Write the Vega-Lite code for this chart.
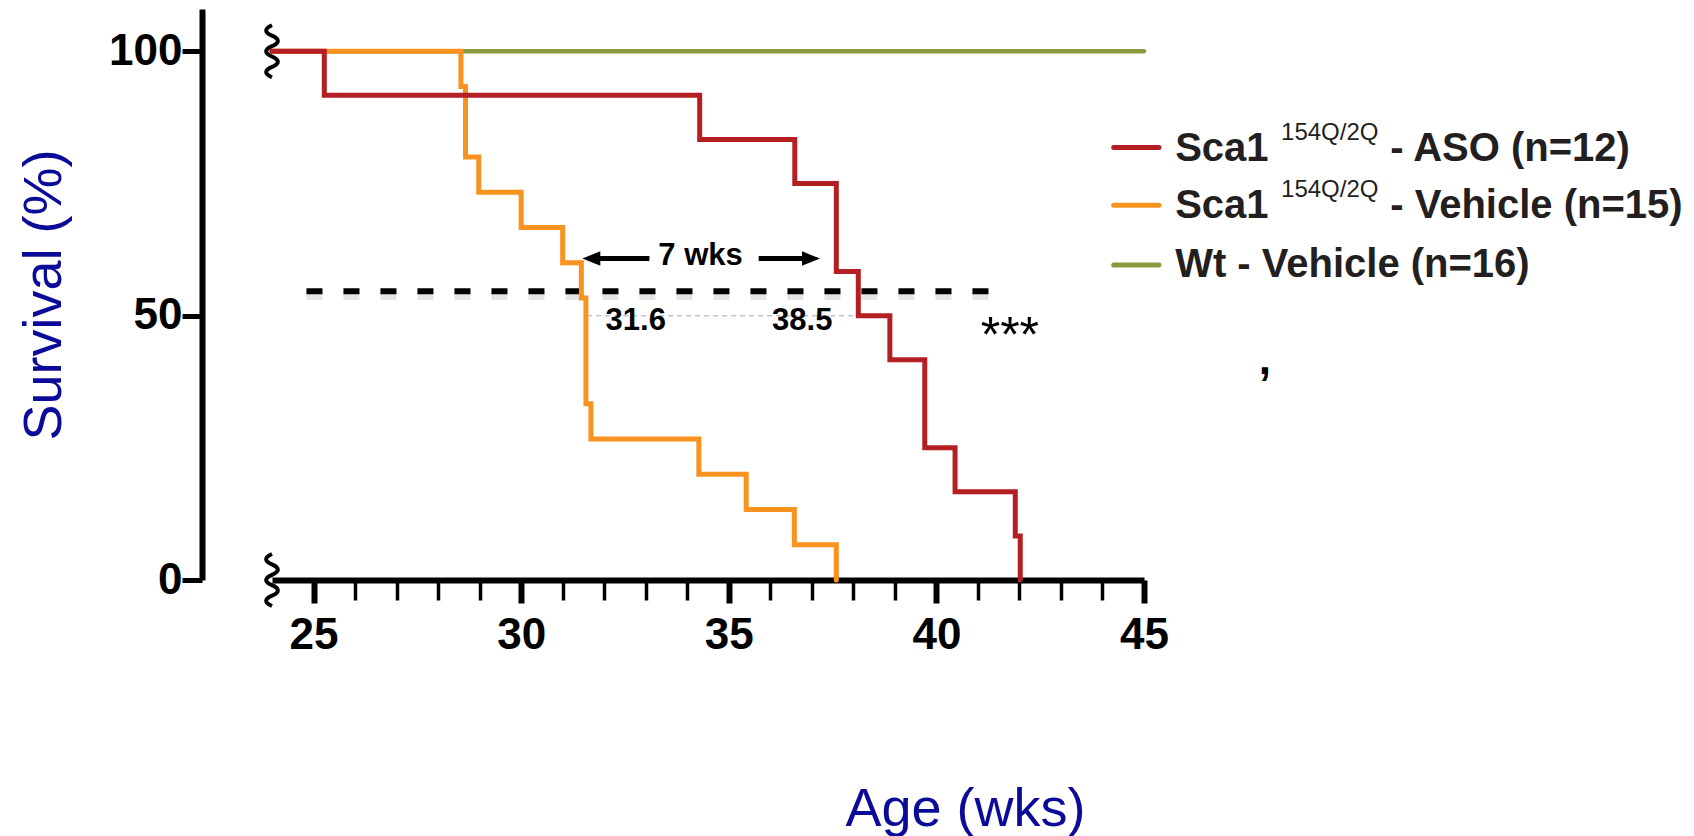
{
  "$schema": "https://vega.github.io/schema/vega-lite/v6.json",
  "width": 872,
  "height": 571,
  "autosize": {"type": "none"},
  "padding": {"left": 272, "top": 9, "right": 550, "bottom": 256},
  "background": "white",
  "config": {"view": {"stroke": null}, "font": "Liberation Sans"},
  "datasets": {
    "surv": [
      {"g": "wt", "x": 24, "y": 100}, {"g": "wt", "x": 45, "y": 100},
      {"g": "veh", "x": 24, "y": 100}, {"g": "veh", "x": 28.55, "y": 93.33}, {"g": "veh", "x": 28.66, "y": 80},
      {"g": "veh", "x": 28.98, "y": 73.33}, {"g": "veh", "x": 30.0, "y": 66.67}, {"g": "veh", "x": 31.0, "y": 60},
      {"g": "veh", "x": 31.45, "y": 53.33}, {"g": "veh", "x": 31.56, "y": 33.33}, {"g": "veh", "x": 31.68, "y": 26.67},
      {"g": "veh", "x": 34.28, "y": 20}, {"g": "veh", "x": 35.42, "y": 13.33}, {"g": "veh", "x": 36.58, "y": 6.67},
      {"g": "veh", "x": 37.59, "y": 0},
      {"g": "aso", "x": 24, "y": 100}, {"g": "aso", "x": 25.26, "y": 91.67}, {"g": "aso", "x": 34.3, "y": 83.33},
      {"g": "aso", "x": 36.59, "y": 75}, {"g": "aso", "x": 37.59, "y": 58.33}, {"g": "aso", "x": 38.12, "y": 50},
      {"g": "aso", "x": 38.88, "y": 41.67}, {"g": "aso", "x": 39.72, "y": 25}, {"g": "aso", "x": 40.45, "y": 16.67},
      {"g": "aso", "x": 41.9, "y": 8.33}, {"g": "aso", "x": 42.02, "y": 0}
    ],
    "breaks": [{"x": 24, "y": 100}, {"x": 24, "y": 0}],
    "median": [{"x": 24.83, "x2": 41.47, "y": 54.6}],
    "medianShadow": [{"x": 24.83, "x2": 41.47, "y": 53.9}],
    "fifty": [{"x": 31.59, "x2": 38.12, "y": 50}],
    "medLabels": [
      {"x": 32.76, "y": 47.3, "t": "31.6"},
      {"x": 36.77, "y": 47.3, "t": "38.5"},
      {"x": 34.32, "y": 59.55, "t": "7 wks"}
    ],
    "stars": [{"x": 41.77, "y": 43.2, "t": "***"}],
    "comma": [{"x": 47.91, "y": 38.9, "t": ","}],
    "shafts": [{"x": 31.85, "x2": 33.09, "y": 60.8}, {"x": 35.72, "x2": 36.8, "y": 60.8}],
    "headL": [{"x": 31.69, "y": 60.8}],
    "headR": [{"x": 36.98, "y": 60.8}],
    "legLines": [
      {"g": "aso", "x": 44.27, "x2": 45.36, "y": 81.8},
      {"g": "veh", "x": 44.27, "x2": 45.36, "y": 70.9},
      {"g": "wt", "x": 44.27, "x2": 45.36, "y": 59.6}
    ],
    "legMain": [
      {"x": 45.75, "y": 79.2, "t": "Sca1"},
      {"x": 50.93, "y": 79.2, "t": "- ASO (n=12)"},
      {"x": 45.75, "y": 68.4, "t": "Sca1"},
      {"x": 50.93, "y": 68.4, "t": "- Vehicle (n=15)"},
      {"x": 45.75, "y": 57.4, "t": "Wt - Vehicle (n=16)"}
    ],
    "legSup": [
      {"x": 48.3, "y": 83.3, "t": "154Q/2Q"},
      {"x": 48.3, "y": 72.5, "t": "154Q/2Q"}
    ]
  },
  "encoding": {
    "x": {
      "field": "x", "type": "quantitative",
      "scale": {"domain": [24, 45], "nice": false, "zero": false},
      "axis": {
        "values": [25, 26, 27, 28, 29, 30, 31, 32, 33, 34, 35, 36, 37, 38, 39, 40, 41, 42, 43, 44, 45],
        "labelExpr": "datum.value % 5 === 0 ? datum.label : ''",
        "grid": false,
        "domainColor": "black", "domainWidth": 6,
        "tickColor": "black",
        "tickWidth": {"condition": {"test": "datum.value % 5 === 0", "value": 6}, "value": 3.5},
        "tickSize": {"condition": {"test": "datum.value % 5 === 0", "value": 23}, "value": 20},
        "labelFont": "Liberation Sans", "labelFontSize": 44, "labelFontWeight": "bold", "labelColor": "black",
        "labelPadding": 10, "labelFlush": false, "labelOverlap": false,
        "title": "Age (wks)", "titleFont": "Liberation Sans", "titleFontSize": 54, "titleFontWeight": "normal",
        "titleColor": "#0B0B99", "titleX": 693, "titleY": 245, "titleBaseline": "alphabetic", "titleAlign": "center"
      }
    },
    "y": {
      "field": "y", "type": "quantitative",
      "scale": {"domain": [0, 108], "nice": false, "zero": false},
      "axis": {
        "values": [0, 50, 100],
        "offset": 70,
        "grid": false,
        "domainColor": "black", "domainWidth": 6,
        "tickColor": "black", "tickWidth": 5, "tickSize": 20,
        "labelFont": "Liberation Sans", "labelFontSize": 44, "labelFontWeight": "bold", "labelColor": "black",
        "labelPadding": 0,
        "title": "Survival (%)", "titleFont": "Liberation Sans", "titleFontSize": 54, "titleFontWeight": "normal",
        "titleColor": "#0B0B99", "titleX": -142, "titleBaseline": "alphabetic", "titleAngle": -90, "titleAlign": "center"
      }
    }
  },
  "layer": [
    {
      "data": {"name": "medianShadow"},
      "mark": {"type": "rule", "color": "black", "opacity": 0.1, "strokeWidth": 10, "strokeDash": [16, 21]},
      "encoding": {"x2": {"field": "x2"}}
    },
    {
      "data": {"name": "median"},
      "mark": {"type": "rule", "color": "black", "strokeWidth": 6, "strokeDash": [16, 21]},
      "encoding": {"x2": {"field": "x2"}}
    },
    {
      "data": {"name": "fifty"},
      "mark": {"type": "rule", "color": "#C4C4C4", "strokeWidth": 1.5, "strokeDash": [5, 4]},
      "encoding": {"x2": {"field": "x2"}}
    },
    {
      "data": {"name": "surv"},
      "transform": [{"filter": "datum.g === 'wt'"}],
      "mark": {"type": "line", "interpolate": "step-after", "color": "#8A9A3C", "strokeWidth": 4.5, "strokeCap": "round"},
      "encoding": {}
    },
    {
      "data": {"name": "surv"},
      "transform": [{"filter": "datum.g === 'veh'"}],
      "mark": {"type": "line", "interpolate": "step-after", "color": "#F7931E", "strokeWidth": 5, "strokeCap": "round"},
      "encoding": {}
    },
    {
      "data": {"name": "surv"},
      "transform": [{"filter": "datum.g === 'aso'"}],
      "mark": {"type": "line", "interpolate": "step-after", "color": "#B41F24", "strokeWidth": 5, "strokeCap": "round"},
      "encoding": {}
    },
    {
      "data": {"name": "breaks"},
      "mark": {
        "type": "point",
        "shape": "M0,-1 Q-0.45,-0.8 0,-0.6 Q0.45,-0.4 0,-0.2 Q-0.45,0 0,0.2 Q0.45,0.4 0,0.6 Q-0.45,0.8 0,1",
        "filled": false, "stroke": "black", "strokeWidth": 4, "size": 2704, "opacity": 1
      }
    },
    {
      "data": {"name": "medLabels"},
      "mark": {"type": "text", "font": "Liberation Sans", "fontSize": 31, "fontWeight": "bold", "color": "black", "align": "center", "baseline": "alphabetic"},
      "encoding": {"text": {"field": "t"}}
    },
    {
      "data": {"name": "stars"},
      "mark": {"type": "text", "font": "Liberation Sans", "fontSize": 50, "fontWeight": "normal", "color": "black", "align": "center", "baseline": "alphabetic"},
      "encoding": {"text": {"field": "t"}}
    },
    {
      "data": {"name": "comma"},
      "mark": {"type": "text", "font": "Liberation Sans", "fontSize": 44, "fontWeight": "bold", "color": "black", "align": "center", "baseline": "alphabetic"},
      "encoding": {"text": {"field": "t"}}
    },
    {
      "data": {"name": "shafts"},
      "mark": {"type": "rule", "color": "black", "strokeWidth": 5},
      "encoding": {"x2": {"field": "x2"}}
    },
    {
      "data": {"name": "headL"},
      "mark": {"type": "point", "shape": "M-1,0 L1,-0.8 L1,0.8 Z", "filled": true, "fill": "black", "strokeWidth": 0, "size": 324, "opacity": 1}
    },
    {
      "data": {"name": "headR"},
      "mark": {"type": "point", "shape": "M1,0 L-1,-0.8 L-1,0.8 Z", "filled": true, "fill": "black", "strokeWidth": 0, "size": 324, "opacity": 1}
    },
    {
      "data": {"name": "legLines"},
      "mark": {"type": "rule", "strokeWidth": 5, "strokeCap": "round"},
      "encoding": {
        "x2": {"field": "x2"},
        "color": {"field": "g", "type": "nominal", "scale": {"domain": ["aso", "veh", "wt"], "range": ["#B41F24", "#F7931E", "#8A9A3C"]}, "legend": null}
      }
    },
    {
      "data": {"name": "legMain"},
      "mark": {"type": "text", "font": "Liberation Sans", "fontSize": 40, "fontWeight": "bold", "color": "#231F20", "align": "left", "baseline": "alphabetic"},
      "encoding": {"text": {"field": "t"}}
    },
    {
      "data": {"name": "legSup"},
      "mark": {"type": "text", "font": "Liberation Sans", "fontSize": 24, "fontWeight": "normal", "color": "#231F20", "align": "left", "baseline": "alphabetic"},
      "encoding": {"text": {"field": "t"}}
    }
  ]
}
